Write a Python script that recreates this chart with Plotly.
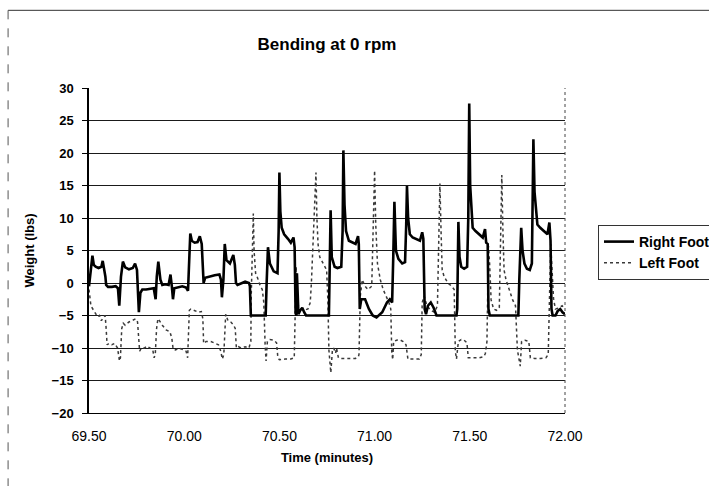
import plotly.graph_objects as go

# ---- data ----
rf_t = [69.500, 69.505, 69.512, 69.518, 69.525, 69.535, 69.550, 69.565, 69.572, 69.580,
        69.586, 69.590, 69.600, 69.620, 69.640, 69.652, 69.659, 69.668, 69.678, 69.690,
        69.710, 69.730, 69.742, 69.752, 69.758, 69.762, 69.770, 69.780, 69.800, 69.820,
        69.840, 69.850, 69.856, 69.864, 69.875, 69.885, 69.900, 69.918, 69.928, 69.935,
        69.941, 69.948, 69.970, 69.990, 70.010, 70.020, 70.027, 70.032, 70.040, 70.055,
        70.070, 70.082, 70.092, 70.098, 70.102, 70.110, 70.130, 70.160, 70.185, 70.193,
        70.198, 70.206, 70.213, 70.222, 70.240, 70.258, 70.266, 70.272, 70.280, 70.300,
        70.320, 70.340, 70.345, 70.350, 70.380, 70.410, 70.428, 70.433, 70.440, 70.450,
        70.470, 70.490, 70.496, 70.500, 70.505, 70.512, 70.525, 70.545, 70.560, 70.574,
        70.580, 70.585, 70.589, 70.592, 70.596, 70.600, 70.610, 70.620, 70.630, 70.640,
        70.700, 70.760, 70.764, 70.769, 70.775, 70.790, 70.805, 70.825, 70.832, 70.836,
        70.842, 70.850, 70.865, 70.885, 70.900, 70.913, 70.917, 70.922, 70.930, 70.950,
        70.970, 70.990, 71.010, 71.040, 71.065, 71.080, 71.092, 71.098, 71.104, 71.112,
        71.125, 71.145, 71.160, 71.166, 71.170, 71.176, 71.185, 71.200, 71.220, 71.238,
        71.250, 71.256, 71.263, 71.270, 71.280, 71.295, 71.310, 71.325, 71.400, 71.430,
        71.434, 71.437, 71.440, 71.446, 71.455, 71.470, 71.486, 71.492, 71.497, 71.502,
        71.508, 71.515, 71.530, 71.550, 71.568, 71.580, 71.586, 71.594, 71.598, 71.605,
        71.700, 71.755, 71.760, 71.770, 71.777, 71.787, 71.800, 71.815, 71.826, 71.830,
        71.834, 71.840, 71.847, 71.855, 71.870, 71.890, 71.908, 71.918, 71.924, 71.929,
        71.935, 71.950, 71.962, 71.975, 71.987, 72.000]
rf_v = [-0.5, 1.0, 3.5, 4.2, 2.8, 2.5, 2.3, 2.5, 3.4, 2.2,
        1.0, -0.3, -0.6, -0.6, -0.5, -0.8, -3.5, 1.0, 3.3, 2.4,
        2.1, 2.3, 3.0, 2.0, -2.0, -4.5, -1.5, -1.0, -1.0, -0.9,
        -0.8, -2.5, 1.0, 3.3, 0.5, -0.3, -0.2, -0.3, 1.3, -0.5,
        -2.5, -0.8, -0.6, -0.5, -0.7, -1.2, 4.0, 7.6, 6.5, 6.2,
        6.3, 7.2, 6.0, 2.0, 0.0, 0.8, 1.0, 1.2, 1.3, 0.5,
        -2.2, 0.5, 6.0, 3.5, 3.0, 4.3, 2.8, 0.0, -0.3, 0.0,
        0.2, 0.0, -0.5, -5.0, -5.0, -5.0, -5.0, 0.0, 5.5, 3.0,
        1.8, 1.5, 8.0, 17.0, 11.0, 8.5, 7.5, 6.8, 6.2, 7.0,
        5.5, -4.5, -5.0, 1.5, -4.5, -4.8, -4.2, -3.8, -4.5, -5.0,
        -5.0, -5.0, 2.0, 11.2, 4.0, 2.5, 2.3, 2.5, 8.0, 20.4,
        12.0, 8.0, 6.5, 6.2, 6.0, 7.2, 6.0, -4.0, -2.5, -2.5,
        -4.0, -5.0, -5.3, -4.5, -3.0, -2.5, -3.0, 4.0, 12.5, 5.0,
        3.7, 3.0, 3.2, 9.0, 14.9, 10.0, 7.5, 7.0, 6.7, 6.5,
        7.8, 6.8, -4.0, -4.8, -3.5, -3.0, -3.8, -5.0, -5.0, -5.0,
        -4.0, 3.0, 9.4, 4.0, 2.5, 2.2, 2.5, 10.0, 27.6, 15.0,
        11.0, 8.5, 8.0, 7.5, 7.0, 8.3, 6.2, 6.0, -4.0, -5.0,
        -5.0, -5.0, 0.5, 8.5, 5.0, 3.0, 2.2, 2.0, 3.0, 10.0,
        22.1, 14.0, 11.0, 9.0, 8.5, 8.0, 7.5, 9.3, 6.5, -4.0,
        -5.0, -5.0, -4.3, -4.0, -4.5, -4.8]

lf_t = [69.500, 69.505, 69.510, 69.520, 69.535, 69.545, 69.555, 69.565, 69.575, 69.585,
        69.590, 69.595, 69.605, 69.620, 69.635, 69.650, 69.660, 69.665, 69.672, 69.680,
        69.690, 69.710, 69.725, 69.745, 69.755, 69.766, 69.775, 69.790, 69.805, 69.820,
        69.835, 69.842, 69.848, 69.855, 69.862, 69.870, 69.885, 69.905, 69.925, 69.935,
        69.942, 69.955, 69.970, 69.990, 70.010, 70.018, 70.022, 70.027, 70.035, 70.055,
        70.075, 70.090, 70.098, 70.102, 70.115, 70.140, 70.160, 70.180, 70.192, 70.200,
        70.208, 70.218, 70.230, 70.245, 70.260, 70.268, 70.274, 70.285, 70.300, 70.320,
        70.340, 70.350, 70.352, 70.358, 70.363, 70.367, 70.375, 70.385, 70.400, 70.410,
        70.418, 70.425, 70.430, 70.437, 70.450, 70.470, 70.485, 70.492, 70.500, 70.530,
        70.560, 70.578, 70.584, 70.588, 70.594, 70.600, 70.615, 70.630, 70.650, 70.662,
        70.668, 70.678, 70.686, 70.692, 70.697, 70.703, 70.712, 70.720, 70.735, 70.748,
        70.755, 70.760, 70.770, 70.778, 70.785, 70.795, 70.800, 70.810, 70.820, 70.850,
        70.880, 70.900, 70.915, 70.918, 70.925, 70.935, 70.950, 70.965, 70.985, 70.993,
        71.000, 71.006, 71.015, 71.030, 71.045, 71.060, 71.075, 71.085, 71.090, 71.095,
        71.100, 71.115, 71.130, 71.150, 71.165, 71.175, 71.200, 71.235, 71.245, 71.250,
        71.260, 71.275, 71.295, 71.315, 71.330, 71.337, 71.343, 71.349, 71.355, 71.365,
        71.385, 71.405, 71.418, 71.424, 71.430, 71.440, 71.455, 71.470, 71.485, 71.492,
        71.520, 71.550, 71.575, 71.582, 71.590, 71.592, 71.598, 71.604, 71.612, 71.625,
        71.640, 71.655, 71.662, 71.668, 71.674, 71.680, 71.690, 71.705, 71.725, 71.740,
        71.750, 71.765, 71.772, 71.790, 71.810, 71.818, 71.840, 71.870, 71.900, 71.912,
        71.918, 71.925, 71.932, 71.940, 71.950, 71.970, 71.985, 72.000]
lf_v = [-1.0, -3.0, -3.5, -4.0, -4.8, -5.2, -5.0, -5.8, -5.3, -5.0,
        -7.0, -9.5, -9.3, -9.5, -9.3, -10.0, -12.0, -11.5, -7.0, -6.2,
        -6.5, -6.0, -5.8, -5.5, -6.0, -10.5, -10.0, -10.0, -9.7, -10.0,
        -10.3, -11.5, -11.0, -7.0, -5.5, -5.8, -6.5, -7.2, -7.5, -8.5,
        -10.2, -10.3, -10.0, -10.2, -10.5, -11.5, -9.0, -4.2, -4.0, -4.3,
        -4.5, -4.4, -5.5, -9.3, -9.0, -9.0, -9.2, -9.5, -10.5, -11.7,
        -11.0, -4.8, -5.8, -6.0, -6.5, -7.0, -10.0, -9.8, -10.0, -9.8,
        -10.0, -9.0, -2.0, 6.0, 10.7, 5.0, 1.5, 0.8, -0.5, -1.0,
        -3.0, -9.5, -12.0, -9.0, -8.7, -8.8, -9.2, -11.5, -11.8, -11.7,
        -11.7, -11.5, -3.0, 2.5, -2.5, -3.5, -4.0, -4.2, -4.0, -3.0,
        0.0, 8.0, 12.0, 17.0, 10.0, 6.0, 4.0, 3.5, 2.8, 2.0,
        -3.0, -10.3, -13.8, -10.5, -10.0, -10.8, -10.0, -11.5, -11.6, -11.6,
        -11.6, -11.6, -11.3, -11.0, -2.0, 0.5, -0.5, -1.0, -0.5, 8.0,
        17.3, 9.0, 3.0, 0.5, -1.0, -2.0, -3.0, -4.0, -10.5, -11.8,
        -9.0, -8.8, -8.7, -9.0, -9.5, -11.7, -11.7, -11.7, -11.0, -3.0,
        -2.0, -3.5, -4.2, -4.5, -3.5, 5.0, 15.3, 8.0, 2.0, 1.0,
        0.0, -0.5, -1.0, -10.5, -11.7, -9.0, -8.7, -8.8, -9.2, -11.5,
        -11.5, -11.5, -11.3, -10.8, -9.0, -2.0, 5.7, 3.0, -2.6, -4.0,
        -4.2, -3.8, 5.0, 16.6, 8.0, 2.0, 0.5, -1.0, -2.6, -3.5,
        -10.3, -12.8, -9.0, -8.8, -9.0, -11.5, -11.6, -11.6, -11.5, -11.0,
        0.0, 6.0, 2.0, -2.5, -4.0, -3.8, -3.5, -4.0]

x_ticks = [69.5, 70.0, 70.5, 71.0, 71.5, 72.0]
y_ticks = [-20, -15, -10, -5, 0, 5, 10, 15, 20, 25, 30]

FONT = "Liberation Sans, Arial, sans-serif"

fig = go.Figure()
fig.add_trace(go.Scatter(x=lf_t, y=lf_v, mode="lines", name="Left Foot", legendrank=2,
                         line=dict(color="#3a3a3a", width=1.5, dash="dot")))
fig.add_trace(go.Scatter(x=rf_t, y=rf_v, mode="lines", name="Right Foot", legendrank=1,
                         line=dict(color="#000000", width=2.6)))

fig.update_layout(
    width=709, height=486,
    margin=dict(l=89, r=144, t=88, b=73, autoexpand=False),
    paper_bgcolor="white", plot_bgcolor="white",
    font=dict(family=FONT, color="black", size=13),
    title=dict(text="<b>Bending at 0 rpm</b>", x=0.5, xref="paper", xanchor="center",
               y=1 - 44 / 486, yref="container", yanchor="middle",
               font=dict(family=FONT, size=17, color="black")),
    showlegend=True,
    legend=dict(x=598 / 709, y=1 - 225 / 486, xref="container", yref="container",
                xanchor="left", yanchor="top",
                bordercolor="#333333", borderwidth=1, bgcolor="white",
                font=dict(family=FONT, size=14, color="black", weight="bold"),
                itemwidth=30, tracegroupgap=0),
    xaxis=dict(range=[69.5, 72.0], tickvals=x_ticks, tickformat=".2f", automargin=False,
               showgrid=False, zeroline=False, showline=True, linecolor="black", linewidth=1,
               ticks="", ticklabelstandoff=10,
               tickfont=dict(family=FONT, size=14, color="black"),
               title=dict(text="<b>Time (minutes)</b>", standoff=10,
                          font=dict(family=FONT, size=13, color="black"))),
    yaxis=dict(range=[-20, 30], tickvals=y_ticks, automargin=False,
               showgrid=True, gridcolor="#1a1a1a", gridwidth=1, zeroline=False,
               showline=True, linecolor="black", linewidth=1.5,
               ticks="outside", ticklen=5, tickcolor="black", ticklabelstandoff=6,
               tickfont=dict(family=FONT, size=13, color="black", weight="bold"),
               title=dict(text="<b>Weight (lbs)</b>", standoff=14,
                          font=dict(family=FONT, size=13, color="black"))),
)

# right border of plot area (dotted) and outer chart frame
fig.add_shape(type="line", xref="paper", yref="paper", x0=1, x1=1, y0=0, y1=1,
              line=dict(color="#444444", width=1, dash="dot"))
fig.add_shape(type="line", xref="paper", yref="paper", x0=-0.170, x1=1.31, y0=1.239, y1=1.239,
              line=dict(color="#333333", width=1))
fig.add_shape(type="line", xref="paper", yref="paper", x0=-0.170, x1=-0.170, y0=1.239, y1=-0.24,
              line=dict(color="#555555", width=1, dash="dash"))

fig.write_html("out.html")
